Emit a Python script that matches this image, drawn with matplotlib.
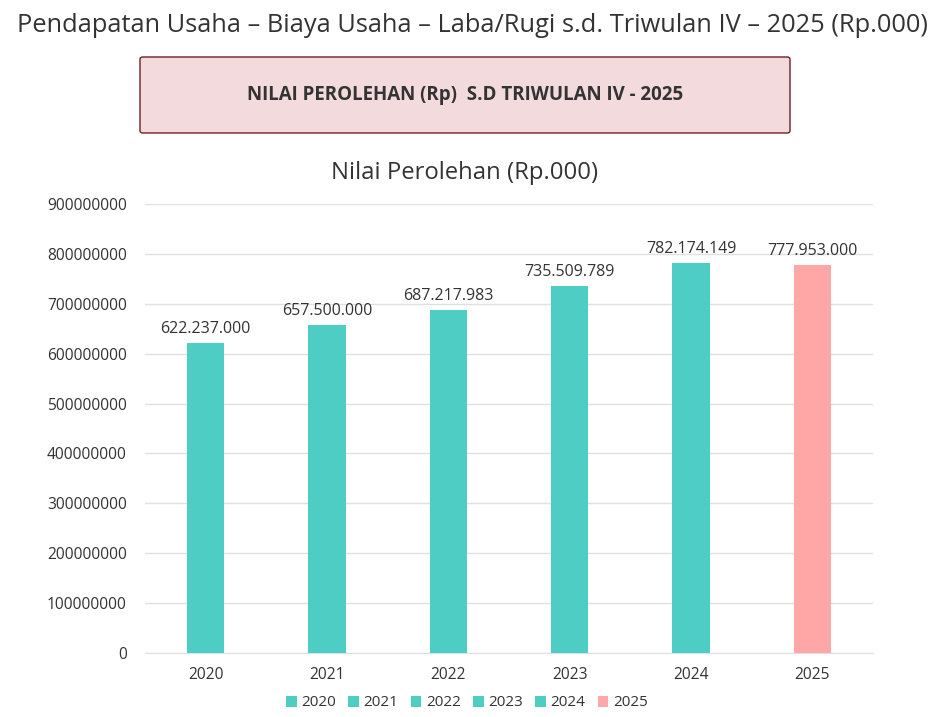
import matplotlib
matplotlib.use('Agg')
import matplotlib.pyplot as plt
from matplotlib.patches import FancyBboxPatch, Patch

years = ['2020', '2021', '2022', '2023', '2024', '2025']
values = [622237000, 657500000, 687217983, 735509789, 782174149, 777953000]
value_labels = ['622.237.000', '657.500.000', '687.217.983', '735.509.789', '782.174.149', '777.953.000']
colors = ['#4ecdc4', '#4ecdc4', '#4ecdc4', '#4ecdc4', '#4ecdc4', '#ffa6a6']
yticks = [0, 100000000, 200000000, 300000000, 400000000, 500000000,
          600000000, 700000000, 800000000, 900000000]

plt.rcParams['font.family'] = ['Open Sans', 'DejaVu Sans']
txt = '#333333'

fig = plt.figure(figsize=(9.43, 7.17), dpi=100)

# page title
fig.text(472/943., 1 - 25/717., 'Pendapatan Usaha \u2013 Biaya Usaha \u2013 Laba/Rugi s.d. Triwulan IV \u2013 2025 (Rp.000)',
         ha='center', va='center', fontsize=18.3, color=txt)

# pink box
box = FancyBboxPatch((140/943., 1 - 133/717.), 650/943., 76/717., boxstyle='round,pad=0,rounding_size=0.003',
                     transform=fig.transFigure, facecolor='#f3dadd', edgecolor='#6b1f24', linewidth=1)
fig.patches.append(box)
fig.text(465/943., 1 - 95/717., 'NILAI PEROLEHAN (Rp)  S.D TRIWULAN IV - 2025',
         ha='center', va='center', fontsize=13.5, fontweight='bold', color=txt)

ax = fig.add_axes([145/943., 1 - 653/717., 728/943., 449/717.])
x = list(range(len(years)))
bars = ax.bar(x, values, width=0.31, color=colors, zorder=3)
for xi, v, lab in zip(x, values, value_labels):
    ax.text(xi, v + 12000000, lab, ha='center', va='bottom', fontsize=11.5, color=txt)

ax.set_xlim(-0.5, len(years) - 0.5)
ax.set_ylim(0, 900000000)
ax.set_yticks(yticks)
ax.set_yticklabels([str(t) for t in yticks])
ax.set_xticks(x)
ax.set_xticklabels(years)
ax.tick_params(axis='both', length=0, labelsize=11.2, colors=txt)
ax.tick_params(axis='x', pad=10)
ax.tick_params(axis='y', pad=13)
ax.grid(axis='y', color='#e0e0e0', linewidth=1, zorder=0)
for s in ['top', 'right', 'left']:
    ax.spines[s].set_visible(False)
ax.spines['bottom'].set_color('#e0e0e0')

fig.text(465/943., 1 - 173/717., 'Nilai Perolehan (Rp.000)', ha='center', va='center',
         fontsize=17.2, color=txt)

handles = [Patch(facecolor=c, label=y) for c, y in zip(colors, years)]
fig.legend(handles=handles, loc='center', bbox_to_anchor=(467/943., 1 - 703/717.), ncol=6,
           frameon=False, fontsize=11, handlelength=0.7, handleheight=0.7,
           handletextpad=0.3, columnspacing=0.8, labelcolor=txt)

fig.savefig('out.png', dpi=100, facecolor='white')
